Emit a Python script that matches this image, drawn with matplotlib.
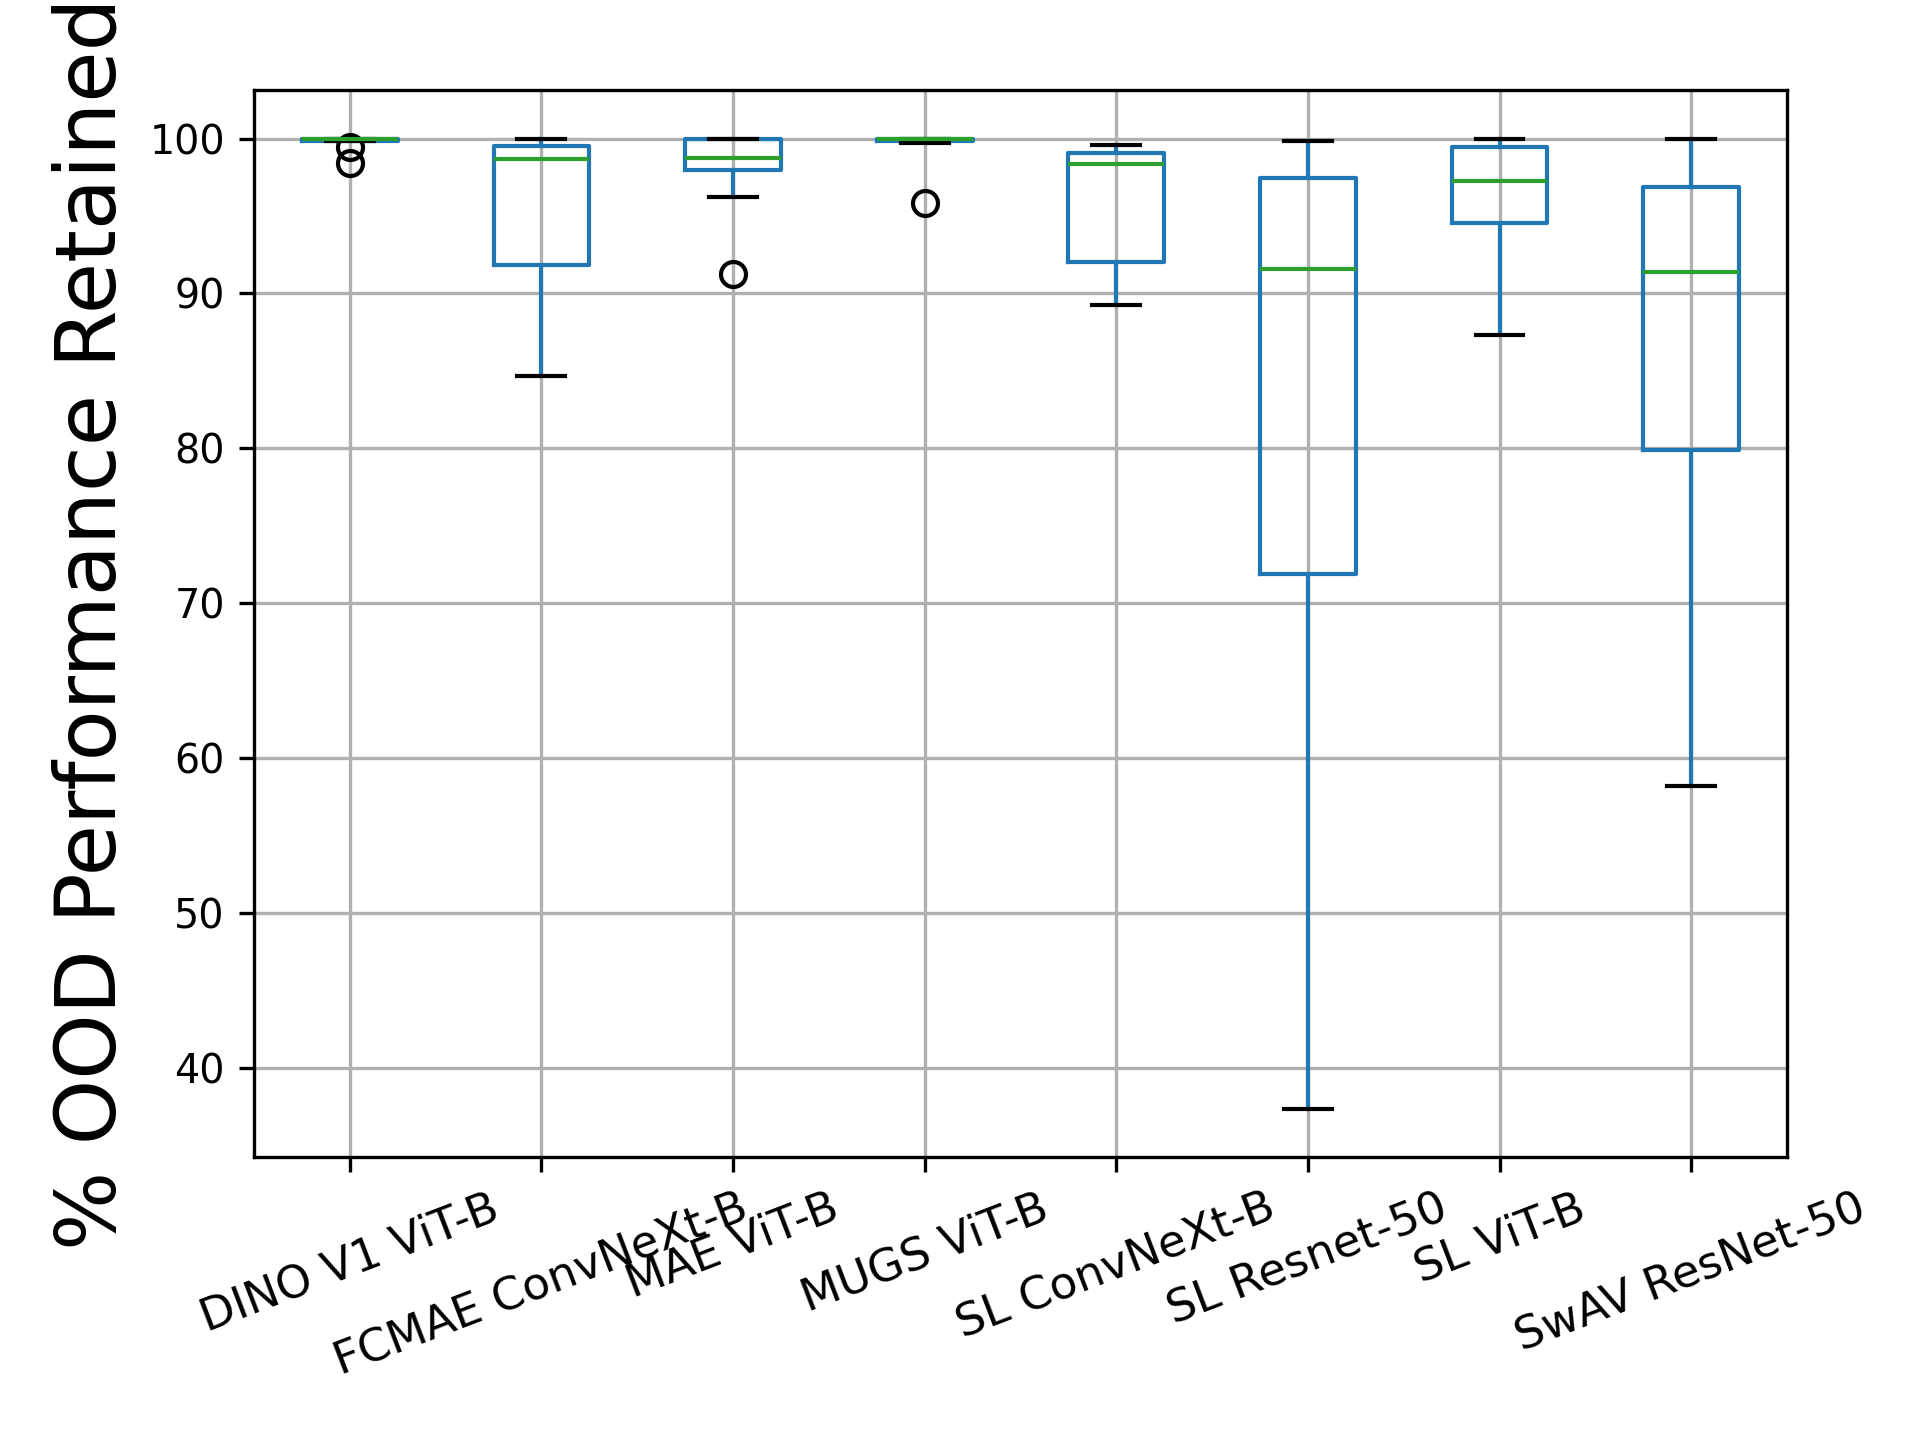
import matplotlib
matplotlib.use("Agg")
import matplotlib.pyplot as plt

categories = ["DINO V1 ViT-B", "FCMAE ConvNeXt-B", "MAE ViT-B", "MUGS ViT-B",
              "SL ConvNeXt-B", "SL Resnet-50", "SL ViT-B", "SwAV ResNet-50"]
medians = [100.0, 98.66, 98.73, 100.0, 98.34, 91.57, 97.25, 91.39]
q1 = [99.85, 91.86, 97.97, 99.87, 92.0, 71.9, 94.54, 79.87]
q3 = [100.0, 99.5, 100.0, 100.0, 99.05, 97.44, 99.44, 96.86]
whisker_low = [99.85, 84.63, 96.2, 99.74, 89.27, 37.35, 87.31, 58.16]
whisker_high = [100.0, 99.95, 100.0, 100.0, 99.61, 99.83, 100.0, 100.0]
outliers = [[99.44, 98.43], [], [91.25], [95.82], [], [], [], []]

stats = []
for i, name in enumerate(categories):
    stats.append(dict(label=name, med=medians[i], q1=q1[i], q3=q3[i],
                      whislo=whisker_low[i], whishi=whisker_high[i],
                      fliers=outliers[i]))

fig = plt.figure(figsize=(6.4, 4.8), dpi=300)
ax = fig.add_axes([0.1323, 0.1965, 0.9307 - 0.1323, 0.9375 - 0.1965])
ax.bxp(stats,
       boxprops=dict(color="C0"),
       whiskerprops=dict(color="C0"),
       medianprops=dict(color="C2"),
       capprops=dict(color="k"),
       flierprops=dict(marker="o", markerfacecolor="none", markeredgecolor="k"))
ax.grid(True)
ax.set_axisbelow(True)
ax.tick_params(axis="y", labelsize=9.5)
ax.tick_params(axis="x", labelsize=10.8)
plt.setp(ax.get_xticklabels(), rotation=21, ha="center")
ax.set_ylabel("% OOD Performance Retained", fontsize=20)
fig.savefig("out.png", dpi=300)
